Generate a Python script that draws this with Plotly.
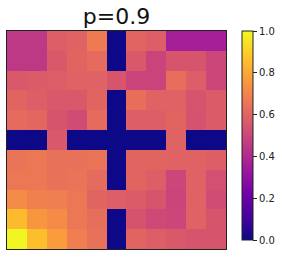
import plotly.graph_objects as go

title_text = "p=0.9"
z_rows = [
    [0.45, 0.45, 0.58, 0.59, 0.67, 0.0, 0.60, 0.58, 0.36, 0.36, 0.36],
    [0.45, 0.45, 0.56, 0.60, 0.62, 0.0, 0.56, 0.49, 0.55, 0.55, 0.50],
    [0.56, 0.57, 0.58, 0.59, 0.59, 0.55, 0.49, 0.49, 0.63, 0.58, 0.50],
    [0.60, 0.58, 0.56, 0.56, 0.60, 0.0, 0.63, 0.59, 0.59, 0.55, 0.57],
    [0.62, 0.61, 0.55, 0.52, 0.62, 0.0, 0.58, 0.58, 0.60, 0.54, 0.57],
    [0.0, 0.0, 0.56, 0.0, 0.0, 0.0, 0.0, 0.0, 0.59, 0.0, 0.0],
    [0.65, 0.66, 0.64, 0.64, 0.65, 0.0, 0.60, 0.60, 0.59, 0.59, 0.58],
    [0.66, 0.66, 0.64, 0.65, 0.62, 0.0, 0.60, 0.58, 0.50, 0.59, 0.53],
    [0.72, 0.69, 0.68, 0.66, 0.60, 0.58, 0.57, 0.55, 0.49, 0.59, 0.52],
    [0.85, 0.75, 0.72, 0.66, 0.63, 0.0, 0.54, 0.51, 0.50, 0.59, 0.55],
    [0.99, 0.86, 0.77, 0.68, 0.64, 0.0, 0.60, 0.58, 0.56, 0.55, 0.55],
]
tick_vals = [0.0, 0.2, 0.4, 0.6, 0.8, 1.0]

fig = go.Figure(go.Heatmap(
    z=z_rows,
    colorscale="Plasma",
    zmin=0, zmax=1,
    xgap=0, ygap=0,
    colorbar=dict(
        x=1.072, xanchor="left", y=1, yanchor="top", len=0.96,
        thickness=11, outlinewidth=1, outlinecolor="#222",
        xpad=0, ypad=0,
        ticks="outside", ticklen=4, tickwidth=1, tickcolor="#222",
        tickvals=tick_vals, tickformat=".1f",
        tickfont=dict(size=10, color="#222", family="DejaVu Sans"),
    ),
))
fig.update_layout(
    width=282, height=262,
    margin=dict(l=7, r=56, t=31, b=13, autoexpand=False),
    paper_bgcolor="white", plot_bgcolor="white",
    title=dict(text=title_text, x=0.413, xanchor="center", y=0.91, yanchor="bottom",
               yref="container",
               font=dict(size=22, color="#111", family="DejaVu Sans")),
    font=dict(family="DejaVu Sans"),
)
fig.update_xaxes(showticklabels=False, ticks="", showgrid=False, zeroline=False,
                 showline=True, mirror=True, linecolor="#222", linewidth=1)
fig.update_yaxes(showticklabels=False, ticks="", showgrid=False, zeroline=False,
                 showline=True, mirror=True, linecolor="#222", linewidth=1,
                 autorange="reversed")
fig.write_html("out.html", config={"displayModeBar": False},
               post_script="document.body.style.margin='0';document.body.style.overflow='hidden';")
